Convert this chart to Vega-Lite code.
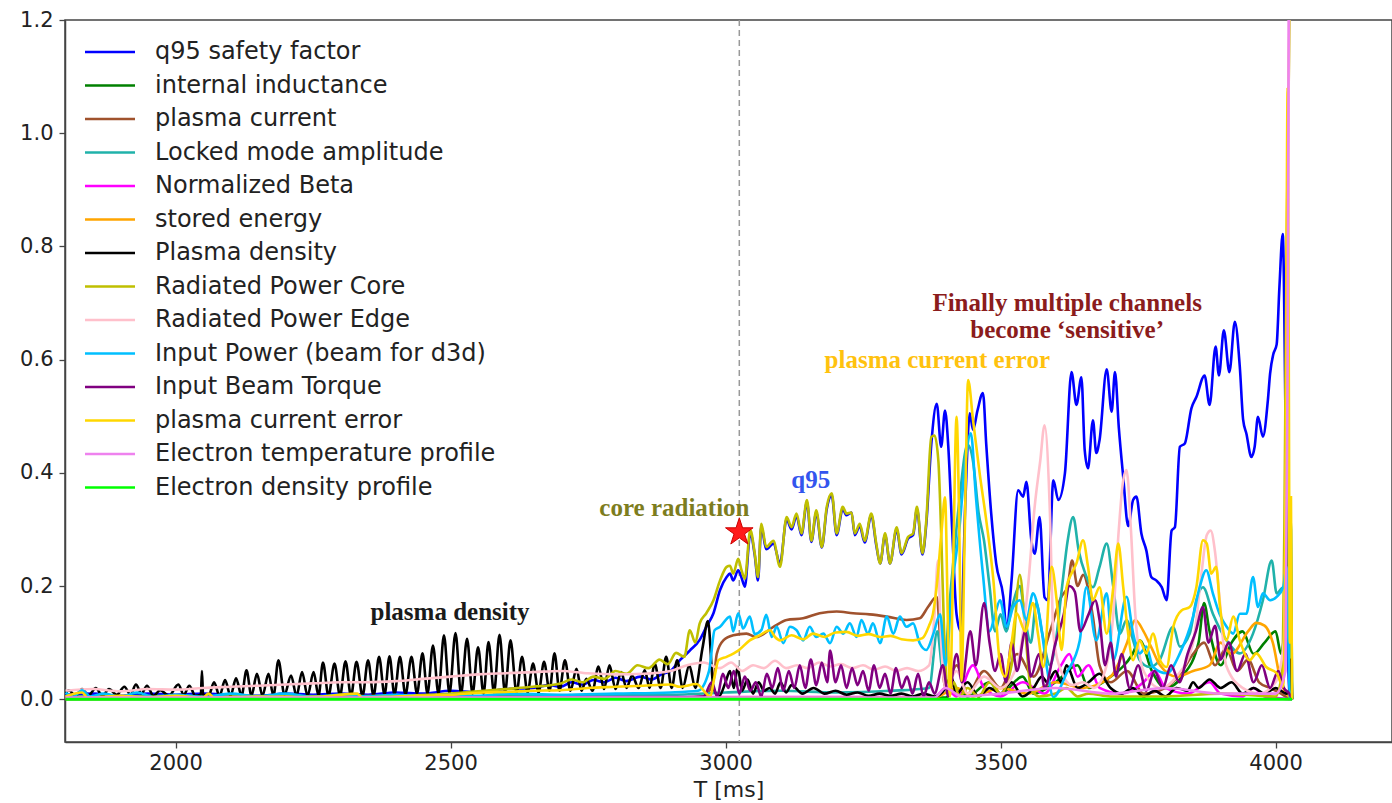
{
  "$schema": "https://vega.github.io/schema/vega-lite/v6.json",
  "width": 1327,
  "height": 722,
  "autosize": "none",
  "padding": {"left": 65, "top": 20, "right": 0, "bottom": 61},
  "background": "white",
  "config": {
    "view": {"stroke": "#444", "strokeWidth": 1.5},
    "axis": {"grid": false, "domainColor": "#444", "domainWidth": 1.5, "tickColor": "#444", "tickWidth": 1.3, "tickSize": 6, "labelFont": "DejaVu Sans", "labelFontSize": 21, "labelColor": "#222", "titleFont": "DejaVu Sans", "titleFontSize": 22, "titleFontWeight": "normal", "titleColor": "#222"}
  },
  "encoding": {
    "x": {"field": "t", "type": "quantitative", "scale": {"domain": [1799, 4211.7], "nice": false, "zero": false},
      "axis": {"title": "T [ms]", "orient": "bottom", "values": [2000, 2500, 3000, 3500, 4000], "format": "d", "labelPadding": 4, "titlePadding": 6}},
    "y": {"field": "v", "type": "quantitative", "scale": {"domain": [-0.0755, 1.2], "nice": false, "zero": false},
      "axis": {"title": null, "orient": "left", "values": [0, 0.2, 0.4, 0.6, 0.8, 1.0, 1.2], "format": ".1f", "labelPadding": 6}}
  },
  "layer": [
    {"mark": {"type": "rule", "color": "#999", "strokeDash": [6, 4], "strokeWidth": 1.5},
     "data": {"values": [{"t": 3025, "v": 1.2, "v2": -0.0755}]},
     "encoding": {"y2": {"field": "v2"}}},
    {"mark": {"type": "line", "strokeWidth": 2.6, "clip": true, "interpolate": "monotone"},
     "data": {"values": [
      {"t":1800,"v":0.008},{"t":1850,"v":0.01},{"t":1900,"v":0.006},{"t":1950,"v":0.01},{"t":2000,"v":0.008},{"t":2050,"v":0.01},{"t":2100,"v":0.008},{"t":2150,"v":0.006},{"t":2200,"v":0.01},{"t":2250,"v":0.008},{"t":2300,"v":0.01},{"t":2350,"v":0.008},{"t":2400,"v":0.012},{"t":2450,"v":0.01},{"t":2500,"v":0.015},{"t":2550,"v":0.012},{"t":2600,"v":0.018},{"t":2650,"v":0.02},{"t":2680,"v":0.025},{"t":2700,"v":0.022},{"t":2720,"v":0.03},{"t":2740,"v":0.026},{"t":2760,"v":0.034},{"t":2780,"v":0.03},{"t":2800,"v":0.038},{"t":2820,"v":0.032},{"t":2845,"v":0.04},{"t":2865,"v":0.035},{"t":2885,"v":0.045},{"t":2900,"v":0.05},{"t":2917,"v":0.069},{"t":2935,"v":0.086},{"t":2953,"v":0.105},{"t":2965,"v":0.128},{"t":2978,"v":0.152},{"t":2990,"v":0.193},{"t":3002,"v":0.216},{"t":3008,"v":0.222},{"t":3014,"v":0.21},{"t":3023,"v":0.228},{"t":3029,"v":0.215},{"t":3035,"v":0.199},{"t":3045,"v":0.293},{"t":3053,"v":0.255},{"t":3059,"v":0.21},{"t":3065,"v":0.305},{"t":3074,"v":0.265},{"t":3087,"v":0.275},{"t":3099,"v":0.24},{"t":3111,"v":0.318},{"t":3120,"v":0.3},{"t":3129,"v":0.324},{"t":3138,"v":0.29},{"t":3148,"v":0.348},{"t":3156,"v":0.278},{"t":3165,"v":0.33},{"t":3175,"v":0.268},{"t":3184,"v":0.336},{"t":3193,"v":0.36},{"t":3202,"v":0.29},{"t":3213,"v":0.336},{"t":3220,"v":0.325},{"t":3229,"v":0.33},{"t":3235,"v":0.29},{"t":3244,"v":0.306},{"t":3253,"v":0.277},{"t":3265,"v":0.325},{"t":3274,"v":0.272},{"t":3281,"v":0.24},{"t":3290,"v":0.29},{"t":3299,"v":0.24},{"t":3311,"v":0.3},{"t":3320,"v":0.256},{"t":3332,"v":0.284},{"t":3341,"v":0.29},{"t":3348,"v":0.336},{"t":3358,"v":0.256},{"t":3365,"v":0.31},{"t":3374,"v":0.45},{"t":3384,"v":0.522},{"t":3392,"v":0.446},{"t":3399,"v":0.51},{"t":3405,"v":0.446},{"t":3412,"v":0.3},{"t":3420,"v":0.15},{"t":3428,"v":0.12},{"t":3436,"v":0.35},{"t":3444,"v":0.505},{"t":3450,"v":0.476},{"t":3458,"v":0.51},{"t":3468,"v":0.541},{"t":3474,"v":0.45},{"t":3483,"v":0.328},{"t":3492,"v":0.24},{"t":3505,"v":0.181},{"t":3511,"v":0.122},{"t":3520,"v":0.21},{"t":3532,"v":0.369},{"t":3541,"v":0.358},{"t":3547,"v":0.384},{"t":3556,"v":0.281},{"t":3562,"v":0.257},{"t":3571,"v":0.322},{"t":3580,"v":0.18},{"t":3586,"v":0.175},{"t":3596,"v":0.387},{"t":3605,"v":0.352},{"t":3617,"v":0.399},{"t":3629,"v":0.578},{"t":3638,"v":0.52},{"t":3647,"v":0.569},{"t":3653,"v":0.44},{"t":3659,"v":0.408},{"t":3668,"v":0.493},{"t":3674,"v":0.435},{"t":3680,"v":0.458},{"t":3693,"v":0.583},{"t":3702,"v":0.508},{"t":3708,"v":0.578},{"t":3715,"v":0.48},{"t":3723,"v":0.393},{"t":3732,"v":0.306},{"t":3741,"v":0.352},{"t":3747,"v":0.358},{"t":3756,"v":0.293},{"t":3765,"v":0.263},{"t":3774,"v":0.216},{"t":3783,"v":0.21},{"t":3793,"v":0.198},{"t":3802,"v":0.175},{"t":3811,"v":0.298},{"t":3817,"v":0.304},{"t":3826,"v":0.446},{"t":3835,"v":0.452},{"t":3847,"v":0.514},{"t":3856,"v":0.534},{"t":3871,"v":0.572},{"t":3880,"v":0.52},{"t":3891,"v":0.623},{"t":3897,"v":0.572},{"t":3906,"v":0.652},{"t":3916,"v":0.578},{"t":3926,"v":0.667},{"t":3935,"v":0.587},{"t":3941,"v":0.494},{"t":3947,"v":0.469},{"t":3956,"v":0.428},{"t":3962,"v":0.446},{"t":3968,"v":0.499},{"t":3977,"v":0.464},{"t":3986,"v":0.528},{"t":3990,"v":0.575},{"t":3996,"v":0.61},{"t":4002,"v":0.627},{"t":4007,"v":0.728},{"t":4013,"v":0.822},{"t":4018,"v":0.5},{"t":4022,"v":0.1},{"t":4026,"v":0.0}
     ]},
     "encoding": {"color": {"datum": "q95 safety factor", "type": "nominal",
       "scale": {"domain": ["q95 safety factor", "internal inductance", "plasma current", "Locked mode amplitude", "Normalized Beta", "stored energy", "Plasma density", "Radiated Power Core", "Radiated Power Edge", "Input Power (beam for d3d)", "Input Beam Torque", "plasma current error", "Electron temperature profile", "Electron density profile"],
         "range": ["#0000ff", "#008000", "#a0522d", "#20b2aa", "#ff00ff", "#ffa500", "#000000", "#bfbf00", "#ffc0cb", "#00bfff", "#800080", "#ffd700", "#ee82ee", "#00ff00"]},
       "legend": {"orient": "none", "legendX": 31, "legendY": 18, "title": null, "symbolType": "M-2,0H2", "symbolSize": 625, "symbolStrokeWidth": 2.5, "labelFont": "DejaVu Sans", "labelFontSize": 24, "labelColor": "#222", "labelOffset": 31, "labelLimit": 600, "rowPadding": 7.5, "padding": 0}}}},
    {"mark": {"type": "line", "strokeWidth": 2.6, "clip": true, "interpolate": "monotone"},
     "data": {"values": [
      {"t":1800,"v":0.002},{"t":3400,"v":0.003},{"t":3420,"v":0.02},{"t":3440,"v":0.005},{"t":3480,"v":0.03},{"t":3500,"v":0.01},{"t":3540,"v":0.04},{"t":3560,"v":0.01},{"t":3600,"v":0.03},{"t":3640,"v":0.06},{"t":3660,"v":0.02},{"t":3700,"v":0.04},{"t":3740,"v":0.08},{"t":3753,"v":0.104},{"t":3775,"v":0.05},{"t":3800,"v":0.02},{"t":3830,"v":0.04},{"t":3860,"v":0.1},{"t":3870,"v":0.17},{"t":3880,"v":0.12},{"t":3900,"v":0.06},{"t":3920,"v":0.1},{"t":3940,"v":0.12},{"t":3960,"v":0.08},{"t":3980,"v":0.1},{"t":4000,"v":0.12},{"t":4010,"v":0.08},{"t":4020,"v":0.2},{"t":4024,"v":0.36},{"t":4028,"v":0.3},{"t":4030,"v":0.0}
     ]},
     "encoding": {"color": {"datum": "internal inductance", "type": "nominal"}}},
    {"mark": {"type": "line", "strokeWidth": 2.6, "clip": true, "interpolate": "monotone"},
     "data": {"values": [
      {"t":1800,"v":0.0},{"t":2900,"v":0.002},{"t":2960,"v":0.005},{"t":2978,"v":0.033},{"t":2984,"v":0.08},{"t":2996,"v":0.104},{"t":3014,"v":0.113},{"t":3038,"v":0.116},{"t":3056,"v":0.11},{"t":3087,"v":0.128},{"t":3111,"v":0.14},{"t":3141,"v":0.143},{"t":3171,"v":0.152},{"t":3202,"v":0.155},{"t":3232,"v":0.152},{"t":3262,"v":0.15},{"t":3293,"v":0.146},{"t":3329,"v":0.14},{"t":3353,"v":0.143},{"t":3368,"v":0.163},{"t":3384,"v":0.181},{"t":3392,"v":0.08},{"t":3400,"v":0.02},{"t":3420,"v":0.06},{"t":3440,"v":0.01},{"t":3470,"v":0.05},{"t":3500,"v":0.02},{"t":3530,"v":0.08},{"t":3560,"v":0.04},{"t":3590,"v":0.12},{"t":3610,"v":0.18},{"t":3622,"v":0.2},{"t":3630,"v":0.245},{"t":3640,"v":0.2},{"t":3650,"v":0.22},{"t":3668,"v":0.145},{"t":3680,"v":0.06},{"t":3700,"v":0.03},{"t":3730,"v":0.05},{"t":3760,"v":0.01},{"t":3800,"v":0.02},{"t":3830,"v":0.05},{"t":3850,"v":0.08},{"t":3870,"v":0.1},{"t":3890,"v":0.06},{"t":3910,"v":0.09},{"t":3930,"v":0.05},{"t":3950,"v":0.07},{"t":3970,"v":0.03},{"t":3990,"v":0.02},{"t":4010,"v":0.01},{"t":4025,"v":0.0}
     ]},
     "encoding": {"color": {"datum": "plasma current", "type": "nominal"}}},
    {"mark": {"type": "line", "strokeWidth": 2.6, "clip": true, "interpolate": "monotone"},
     "data": {"values": [
      {"t":1800,"v":0.005},{"t":2000,"v":0.006},{"t":2500,"v":0.005},{"t":2900,"v":0.008},{"t":3000,"v":0.012},{"t":3100,"v":0.015},{"t":3200,"v":0.012},{"t":3300,"v":0.015},{"t":3370,"v":0.02},{"t":3385,"v":0.12},{"t":3395,"v":0.05},{"t":3410,"v":0.2},{"t":3425,"v":0.35},{"t":3440,"v":0.45},{"t":3450,"v":0.42},{"t":3460,"v":0.33},{"t":3470,"v":0.28},{"t":3480,"v":0.2},{"t":3490,"v":0.12},{"t":3500,"v":0.15},{"t":3510,"v":0.12},{"t":3520,"v":0.16},{"t":3535,"v":0.2},{"t":3545,"v":0.14},{"t":3555,"v":0.1},{"t":3565,"v":0.17},{"t":3575,"v":0.12},{"t":3590,"v":0.06},{"t":3600,"v":0.1},{"t":3612,"v":0.2},{"t":3622,"v":0.28},{"t":3632,"v":0.322},{"t":3642,"v":0.263},{"t":3654,"v":0.222},{"t":3668,"v":0.198},{"t":3680,"v":0.234},{"t":3693,"v":0.275},{"t":3705,"v":0.198},{"t":3717,"v":0.116},{"t":3729,"v":0.14},{"t":3741,"v":0.104},{"t":3753,"v":0.069},{"t":3771,"v":0.057},{"t":3789,"v":0.069},{"t":3814,"v":0.128},{"t":3826,"v":0.093},{"t":3844,"v":0.116},{"t":3856,"v":0.175},{"t":3868,"v":0.198},{"t":3886,"v":0.151},{"t":3911,"v":0.104},{"t":3935,"v":0.081},{"t":3959,"v":0.116},{"t":3977,"v":0.175},{"t":3993,"v":0.245},{"t":4002,"v":0.187},{"t":4014,"v":0.198},{"t":4024,"v":0.116},{"t":4030,"v":0.0}
     ]},
     "encoding": {"color": {"datum": "Locked mode amplitude", "type": "nominal"}}},
    {"mark": {"type": "line", "strokeWidth": 2.6, "clip": true, "interpolate": "monotone"},
     "data": {"values": [
      {"t":1800,"v":0.003},{"t":3380,"v":0.004},{"t":3400,"v":0.02},{"t":3420,"v":0.005},{"t":3450,"v":0.06},{"t":3470,"v":0.02},{"t":3500,"v":0.005},{"t":3540,"v":0.03},{"t":3580,"v":0.01},{"t":3610,"v":0.06},{"t":3625,"v":0.08},{"t":3640,"v":0.04},{"t":3660,"v":0.06},{"t":3680,"v":0.02},{"t":3720,"v":0.01},{"t":3760,"v":0.03},{"t":3780,"v":0.05},{"t":3800,"v":0.02},{"t":3840,"v":0.01},{"t":3880,"v":0.03},{"t":3900,"v":0.01},{"t":3940,"v":0.005},{"t":3960,"v":0.02},{"t":3980,"v":0.005},{"t":4030,"v":0.0}
     ]},
     "encoding": {"color": {"datum": "Normalized Beta", "type": "nominal"}}},
    {"mark": {"type": "line", "strokeWidth": 2.6, "clip": true, "interpolate": "monotone"},
     "data": {"values": [
      {"t":1800,"v":0.002},{"t":3380,"v":0.003},{"t":3420,"v":0.02},{"t":3450,"v":0.005},{"t":3500,"v":0.02},{"t":3550,"v":0.01},{"t":3600,"v":0.03},{"t":3650,"v":0.02},{"t":3700,"v":0.04},{"t":3730,"v":0.1},{"t":3745,"v":0.14},{"t":3760,"v":0.12},{"t":3775,"v":0.09},{"t":3790,"v":0.06},{"t":3820,"v":0.04},{"t":3850,"v":0.05},{"t":3880,"v":0.06},{"t":3900,"v":0.1},{"t":3920,"v":0.08},{"t":3950,"v":0.12},{"t":3965,"v":0.135},{"t":3980,"v":0.13},{"t":3995,"v":0.1},{"t":4010,"v":0.03},{"t":4030,"v":0.0}
     ]},
     "encoding": {"color": {"datum": "stored energy", "type": "nominal"}}},
    {"mark": {"type": "line", "strokeWidth": 2.6, "clip": true, "interpolate": "monotone"},
     "data": {"values": [
      {"t":1800,"v":0.01},{"t":1806,"v":0.016},{"t":1818,"v":0.006},{"t":1830,"v":0.018},{"t":1842,"v":0.007},{"t":1855,"v":0.02},{"t":1867,"v":0.006},{"t":1879,"v":0.018},{"t":1893,"v":0.008},{"t":1907,"v":0.022},{"t":1918,"v":0.008},{"t":1928,"v":0.026},{"t":1938,"v":0.01},{"t":1948,"v":0.024},{"t":1960,"v":0.006},{"t":1972,"v":0.016},{"t":1988,"v":0.006},{"t":2005,"v":0.026},{"t":2015,"v":0.008},{"t":2025,"v":0.024},{"t":2036,"v":0.006},{"t":2046,"v":0.008},{"t":2048,"v":0.05},{"t":2050,"v":0.008},{"t":2060,"v":0.006},{"t":2070,"v":0.03},{"t":2080,"v":0.006},{"t":2090,"v":0.034},{"t":2100,"v":0.006},{"t":2110,"v":0.037},{"t":2120,"v":0.006},{"t":2129,"v":0.051},{"t":2138,"v":0.006},{"t":2148,"v":0.045},{"t":2158,"v":0.006},{"t":2169,"v":0.045},{"t":2178,"v":0.006},{"t":2187,"v":0.069},{"t":2198,"v":0.008},{"t":2210,"v":0.042},{"t":2220,"v":0.006},{"t":2230,"v":0.048},{"t":2240,"v":0.006},{"t":2251,"v":0.048},{"t":2260,"v":0.006},{"t":2268,"v":0.065},{"t":2278,"v":0.006},{"t":2289,"v":0.063},{"t":2299,"v":0.006},{"t":2309,"v":0.067},{"t":2319,"v":0.006},{"t":2329,"v":0.066},{"t":2340,"v":0.006},{"t":2350,"v":0.069},{"t":2360,"v":0.006},{"t":2370,"v":0.075},{"t":2380,"v":0.008},{"t":2389,"v":0.076},{"t":2398,"v":0.008},{"t":2408,"v":0.075},{"t":2418,"v":0.008},{"t":2429,"v":0.075},{"t":2439,"v":0.01},{"t":2449,"v":0.081},{"t":2458,"v":0.01},{"t":2468,"v":0.095},{"t":2478,"v":0.01},{"t":2488,"v":0.113},{"t":2498,"v":0.01},{"t":2509,"v":0.117},{"t":2519,"v":0.01},{"t":2530,"v":0.107},{"t":2540,"v":0.01},{"t":2550,"v":0.092},{"t":2560,"v":0.01},{"t":2569,"v":0.101},{"t":2579,"v":0.012},{"t":2589,"v":0.114},{"t":2599,"v":0.012},{"t":2609,"v":0.104},{"t":2620,"v":0.012},{"t":2630,"v":0.075},{"t":2640,"v":0.012},{"t":2650,"v":0.063},{"t":2660,"v":0.012},{"t":2670,"v":0.066},{"t":2680,"v":0.015},{"t":2689,"v":0.081},{"t":2698,"v":0.015},{"t":2708,"v":0.069},{"t":2718,"v":0.015},{"t":2729,"v":0.054},{"t":2738,"v":0.015},{"t":2747,"v":0.036},{"t":2758,"v":0.015},{"t":2769,"v":0.058},{"t":2779,"v":0.018},{"t":2789,"v":0.06},{"t":2800,"v":0.018},{"t":2810,"v":0.048},{"t":2820,"v":0.02},{"t":2830,"v":0.042},{"t":2842,"v":0.02},{"t":2853,"v":0.051},{"t":2862,"v":0.02},{"t":2871,"v":0.063},{"t":2882,"v":0.02},{"t":2892,"v":0.075},{"t":2902,"v":0.02},{"t":2912,"v":0.069},{"t":2922,"v":0.02},{"t":2934,"v":0.06},{"t":2945,"v":0.02},{"t":2958,"v":0.09},{"t":2968,"v":0.138},{"t":2978,"v":0.02},{"t":2988,"v":0.005},{"t":3000,"v":0.03},{"t":3008,"v":0.05},{"t":3015,"v":0.02},{"t":3022,"v":0.057},{"t":3030,"v":0.015},{"t":3040,"v":0.035},{"t":3050,"v":0.01},{"t":3060,"v":0.03},{"t":3070,"v":0.015},{"t":3080,"v":0.02},{"t":3090,"v":0.01},{"t":3100,"v":0.03},{"t":3110,"v":0.012},{"t":3120,"v":0.025},{"t":3140,"v":0.01},{"t":3160,"v":0.02},{"t":3180,"v":0.01},{"t":3200,"v":0.015},{"t":3220,"v":0.008},{"t":3240,"v":0.012},{"t":3260,"v":0.006},{"t":3280,"v":0.01},{"t":3300,"v":0.006},{"t":3320,"v":0.01},{"t":3340,"v":0.005},{"t":3360,"v":0.01},{"t":3380,"v":0.005},{"t":3400,"v":0.02},{"t":3410,"v":0.04},{"t":3420,"v":0.01},{"t":3440,"v":0.03},{"t":3460,"v":0.005},{"t":3480,"v":0.02},{"t":3500,"v":0.01},{"t":3520,"v":0.03},{"t":3540,"v":0.005},{"t":3560,"v":0.02},{"t":3575,"v":0.04},{"t":3585,"v":0.03},{"t":3600,"v":0.05},{"t":3610,"v":0.03},{"t":3620,"v":0.06},{"t":3640,"v":0.02},{"t":3660,"v":0.03},{"t":3680,"v":0.045},{"t":3700,"v":0.02},{"t":3720,"v":0.01},{"t":3740,"v":0.02},{"t":3760,"v":0.005},{"t":3780,"v":0.015},{"t":3800,"v":0.005},{"t":3820,"v":0.02},{"t":3840,"v":0.015},{"t":3850,"v":0.03},{"t":3860,"v":0.02},{"t":3880,"v":0.035},{"t":3900,"v":0.02},{"t":3920,"v":0.03},{"t":3940,"v":0.01},{"t":3960,"v":0.02},{"t":3980,"v":0.01},{"t":4000,"v":0.02},{"t":4020,"v":0.01},{"t":4026,"v":0.02},{"t":4028,"v":0.07},{"t":4030,"v":0.0}
     ]},
     "encoding": {"color": {"datum": "Plasma density", "type": "nominal"}}},
    {"mark": {"type": "line", "strokeWidth": 2.6, "clip": true, "interpolate": "monotone"},
     "data": {"values": [
      {"t":1800,"v":0.004},{"t":2000,"v":0.004},{"t":2200,"v":0.005},{"t":2400,"v":0.006},{"t":2500,"v":0.01},{"t":2550,"v":0.014},{"t":2600,"v":0.018},{"t":2650,"v":0.022},{"t":2700,"v":0.028},{"t":2720,"v":0.035},{"t":2740,"v":0.03},{"t":2760,"v":0.04},{"t":2780,"v":0.036},{"t":2800,"v":0.05},{"t":2820,"v":0.045},{"t":2840,"v":0.06},{"t":2860,"v":0.055},{"t":2880,"v":0.07},{"t":2895,"v":0.062},{"t":2910,"v":0.082},{"t":2925,"v":0.075},{"t":2935,"v":0.122},{"t":2945,"v":0.1},{"t":2953,"v":0.134},{"t":2965,"v":0.152},{"t":2978,"v":0.175},{"t":2990,"v":0.21},{"t":3002,"v":0.234},{"t":3008,"v":0.236},{"t":3014,"v":0.222},{"t":3023,"v":0.248},{"t":3029,"v":0.228},{"t":3035,"v":0.213},{"t":3045,"v":0.299},{"t":3053,"v":0.258},{"t":3059,"v":0.216},{"t":3065,"v":0.31},{"t":3074,"v":0.269},{"t":3087,"v":0.28},{"t":3099,"v":0.234},{"t":3111,"v":0.322},{"t":3120,"v":0.304},{"t":3129,"v":0.328},{"t":3138,"v":0.293},{"t":3148,"v":0.352},{"t":3156,"v":0.28},{"t":3165,"v":0.334},{"t":3175,"v":0.269},{"t":3184,"v":0.34},{"t":3193,"v":0.364},{"t":3202,"v":0.293},{"t":3213,"v":0.34},{"t":3220,"v":0.328},{"t":3229,"v":0.33},{"t":3235,"v":0.293},{"t":3244,"v":0.31},{"t":3253,"v":0.28},{"t":3265,"v":0.328},{"t":3274,"v":0.275},{"t":3281,"v":0.24},{"t":3290,"v":0.293},{"t":3299,"v":0.24},{"t":3311,"v":0.304},{"t":3320,"v":0.258},{"t":3332,"v":0.287},{"t":3341,"v":0.293},{"t":3348,"v":0.34},{"t":3358,"v":0.258},{"t":3365,"v":0.316},{"t":3374,"v":0.463},{"t":3380,"v":0.466},{"t":3387,"v":0.42},{"t":3392,"v":0.293},{"t":3398,"v":0.1},{"t":3405,"v":0.01},{"t":3415,"v":0.03},{"t":3425,"v":0.005},{"t":3440,"v":0.02},{"t":3460,"v":0.005},{"t":3480,"v":0.03},{"t":3500,"v":0.01},{"t":3520,"v":0.06},{"t":3535,"v":0.22},{"t":3545,"v":0.12},{"t":3555,"v":0.02},{"t":3570,"v":0.005},{"t":3600,"v":0.01},{"t":3620,"v":0.02},{"t":3640,"v":0.005},{"t":3660,"v":0.01},{"t":3700,"v":0.005},{"t":3800,"v":0.005},{"t":3900,"v":0.01},{"t":4000,"v":0.005},{"t":4012,"v":0.05},{"t":4016,"v":0.3},{"t":4020,"v":0.8},{"t":4026,"v":1.25}
     ]},
     "encoding": {"color": {"datum": "Radiated Power Core", "type": "nominal"}}},
    {"mark": {"type": "line", "strokeWidth": 2.6, "clip": true, "interpolate": "monotone"},
     "data": {"values": [
      {"t":1800,"v":0.015},{"t":1850,"v":0.018},{"t":1900,"v":0.014},{"t":1950,"v":0.018},{"t":2000,"v":0.017},{"t":2050,"v":0.02},{"t":2100,"v":0.022},{"t":2150,"v":0.024},{"t":2200,"v":0.026},{"t":2250,"v":0.028},{"t":2300,"v":0.03},{"t":2350,"v":0.03},{"t":2400,"v":0.032},{"t":2450,"v":0.036},{"t":2500,"v":0.04},{"t":2550,"v":0.044},{"t":2600,"v":0.046},{"t":2650,"v":0.048},{"t":2700,"v":0.05},{"t":2750,"v":0.046},{"t":2800,"v":0.044},{"t":2850,"v":0.045},{"t":2900,"v":0.05},{"t":2930,"v":0.06},{"t":2960,"v":0.065},{"t":2990,"v":0.055},{"t":3010,"v":0.065},{"t":3030,"v":0.05},{"t":3050,"v":0.06},{"t":3070,"v":0.055},{"t":3090,"v":0.068},{"t":3110,"v":0.055},{"t":3130,"v":0.06},{"t":3150,"v":0.055},{"t":3170,"v":0.065},{"t":3190,"v":0.058},{"t":3210,"v":0.062},{"t":3230,"v":0.055},{"t":3250,"v":0.06},{"t":3270,"v":0.052},{"t":3290,"v":0.058},{"t":3310,"v":0.05},{"t":3330,"v":0.055},{"t":3350,"v":0.05},{"t":3370,"v":0.06},{"t":3380,"v":0.15},{"t":3386,"v":0.245},{"t":3392,"v":0.1},{"t":3400,"v":0.02},{"t":3420,"v":0.05},{"t":3440,"v":0.01},{"t":3470,"v":0.04},{"t":3500,"v":0.02},{"t":3530,"v":0.06},{"t":3550,"v":0.2},{"t":3562,"v":0.34},{"t":3572,"v":0.42},{"t":3580,"v":0.484},{"t":3590,"v":0.322},{"t":3596,"v":0.116},{"t":3610,"v":0.05},{"t":3630,"v":0.025},{"t":3650,"v":0.03},{"t":3670,"v":0.02},{"t":3690,"v":0.05},{"t":3705,"v":0.15},{"t":3715,"v":0.3},{"t":3722,"v":0.38},{"t":3729,"v":0.405},{"t":3737,"v":0.3},{"t":3745,"v":0.15},{"t":3760,"v":0.05},{"t":3790,"v":0.02},{"t":3820,"v":0.04},{"t":3850,"v":0.1},{"t":3865,"v":0.22},{"t":3875,"v":0.29},{"t":3882,"v":0.298},{"t":3890,"v":0.26},{"t":3898,"v":0.18},{"t":3910,"v":0.06},{"t":3940,"v":0.02},{"t":3970,"v":0.01},{"t":4000,"v":0.03},{"t":4015,"v":0.1},{"t":4020,"v":0.5},{"t":4025,"v":1.25}
     ]},
     "encoding": {"color": {"datum": "Radiated Power Edge", "type": "nominal"}}},
    {"mark": {"type": "line", "strokeWidth": 2.6, "clip": true, "interpolate": "monotone"},
     "data": {"values": [
      {"t":1800,"v":0.012},{"t":1815,"v":0.005},{"t":1830,"v":0.016},{"t":1845,"v":0.005},{"t":1870,"v":0.01},{"t":1900,"v":0.004},{"t":1930,"v":0.012},{"t":1960,"v":0.004},{"t":2000,"v":0.008},{"t":2050,"v":0.004},{"t":2100,"v":0.01},{"t":2150,"v":0.005},{"t":2200,"v":0.01},{"t":2250,"v":0.004},{"t":2300,"v":0.008},{"t":2350,"v":0.005},{"t":2400,"v":0.008},{"t":2450,"v":0.005},{"t":2500,"v":0.008},{"t":2550,"v":0.006},{"t":2600,"v":0.01},{"t":2700,"v":0.008},{"t":2800,"v":0.01},{"t":2900,"v":0.012},{"t":2950,"v":0.015},{"t":2970,"v":0.05},{"t":2980,"v":0.122},{"t":2990,"v":0.128},{"t":3008,"v":0.146},{"t":3014,"v":0.12},{"t":3023,"v":0.152},{"t":3032,"v":0.125},{"t":3044,"v":0.146},{"t":3053,"v":0.115},{"t":3065,"v":0.122},{"t":3074,"v":0.149},{"t":3084,"v":0.11},{"t":3093,"v":0.128},{"t":3105,"v":0.099},{"t":3117,"v":0.128},{"t":3129,"v":0.122},{"t":3141,"v":0.104},{"t":3153,"v":0.128},{"t":3165,"v":0.11},{"t":3178,"v":0.116},{"t":3190,"v":0.099},{"t":3202,"v":0.128},{"t":3214,"v":0.116},{"t":3226,"v":0.134},{"t":3238,"v":0.11},{"t":3247,"v":0.14},{"t":3259,"v":0.116},{"t":3268,"v":0.134},{"t":3281,"v":0.099},{"t":3293,"v":0.146},{"t":3305,"v":0.116},{"t":3317,"v":0.146},{"t":3329,"v":0.128},{"t":3341,"v":0.134},{"t":3353,"v":0.099},{"t":3365,"v":0.087},{"t":3378,"v":0.116},{"t":3390,"v":0.15},{"t":3400,"v":0.06},{"t":3412,"v":0.2},{"t":3425,"v":0.3},{"t":3436,"v":0.42},{"t":3446,"v":0.47},{"t":3455,"v":0.36},{"t":3468,"v":0.22},{"t":3480,"v":0.12},{"t":3490,"v":0.15},{"t":3499,"v":0.175},{"t":3511,"v":0.128},{"t":3523,"v":0.163},{"t":3535,"v":0.175},{"t":3547,"v":0.14},{"t":3559,"v":0.187},{"t":3571,"v":0.146},{"t":3584,"v":0.057},{"t":3596,"v":0.004},{"t":3620,"v":0.046},{"t":3644,"v":0.104},{"t":3656,"v":0.198},{"t":3674,"v":0.104},{"t":3693,"v":0.187},{"t":3705,"v":0.069},{"t":3729,"v":0.181},{"t":3741,"v":0.116},{"t":3753,"v":0.081},{"t":3765,"v":0.093},{"t":3777,"v":0.057},{"t":3802,"v":0.046},{"t":3826,"v":0.081},{"t":3850,"v":0.146},{"t":3862,"v":0.198},{"t":3874,"v":0.228},{"t":3886,"v":0.187},{"t":3898,"v":0.151},{"t":3911,"v":0.128},{"t":3923,"v":0.116},{"t":3935,"v":0.151},{"t":3947,"v":0.151},{"t":3959,"v":0.216},{"t":3968,"v":0.163},{"t":3977,"v":0.187},{"t":3990,"v":0.175},{"t":4002,"v":0.181},{"t":4014,"v":0.198},{"t":4020,"v":0.234},{"t":4026,"v":0.004},{"t":4030,"v":0.0}
     ]},
     "encoding": {"color": {"datum": "Input Power (beam for d3d)", "type": "nominal"}}},
    {"mark": {"type": "line", "strokeWidth": 2.6, "clip": true, "interpolate": "monotone"},
     "data": {"values": [
      {"t":1800,"v":0.002},{"t":2900,"v":0.003},{"t":2960,"v":0.005},{"t":2975,"v":0.03},{"t":2985,"v":0.005},{"t":2995,"v":0.045},{"t":3005,"v":0.02},{"t":3015,"v":0.05},{"t":3025,"v":0.01},{"t":3035,"v":0.04},{"t":3045,"v":0.015},{"t":3055,"v":0.03},{"t":3065,"v":0.005},{"t":3075,"v":0.045},{"t":3085,"v":0.02},{"t":3095,"v":0.055},{"t":3105,"v":0.015},{"t":3115,"v":0.05},{"t":3125,"v":0.02},{"t":3135,"v":0.06},{"t":3145,"v":0.02},{"t":3155,"v":0.07},{"t":3165,"v":0.025},{"t":3175,"v":0.065},{"t":3185,"v":0.03},{"t":3190,"v":0.086},{"t":3200,"v":0.03},{"t":3210,"v":0.06},{"t":3220,"v":0.02},{"t":3230,"v":0.055},{"t":3240,"v":0.025},{"t":3250,"v":0.05},{"t":3260,"v":0.015},{"t":3270,"v":0.06},{"t":3280,"v":0.02},{"t":3290,"v":0.045},{"t":3300,"v":0.01},{"t":3310,"v":0.055},{"t":3320,"v":0.02},{"t":3330,"v":0.04},{"t":3340,"v":0.01},{"t":3350,"v":0.045},{"t":3360,"v":0.005},{"t":3370,"v":0.03},{"t":3380,"v":0.01},{"t":3395,"v":0.06},{"t":3405,"v":0.005},{"t":3420,"v":0.08},{"t":3430,"v":0.03},{"t":3445,"v":0.12},{"t":3455,"v":0.06},{"t":3470,"v":0.17},{"t":3480,"v":0.1},{"t":3490,"v":0.05},{"t":3500,"v":0.08},{"t":3510,"v":0.03},{"t":3520,"v":0.1},{"t":3530,"v":0.05},{"t":3545,"v":0.12},{"t":3555,"v":0.04},{"t":3570,"v":0.08},{"t":3580,"v":0.02},{"t":3600,"v":0.1},{"t":3615,"v":0.15},{"t":3625,"v":0.2},{"t":3635,"v":0.19},{"t":3645,"v":0.12},{"t":3660,"v":0.15},{"t":3672,"v":0.175},{"t":3680,"v":0.14},{"t":3690,"v":0.06},{"t":3700,"v":0.1},{"t":3710,"v":0.04},{"t":3720,"v":0.08},{"t":3735,"v":0.02},{"t":3750,"v":0.06},{"t":3765,"v":0.015},{"t":3780,"v":0.05},{"t":3795,"v":0.02},{"t":3810,"v":0.06},{"t":3825,"v":0.03},{"t":3840,"v":0.08},{"t":3855,"v":0.12},{"t":3868,"v":0.163},{"t":3878,"v":0.1},{"t":3890,"v":0.13},{"t":3900,"v":0.07},{"t":3915,"v":0.1},{"t":3930,"v":0.05},{"t":3945,"v":0.08},{"t":3960,"v":0.03},{"t":3975,"v":0.06},{"t":3990,"v":0.02},{"t":4005,"v":0.05},{"t":4015,"v":0.02},{"t":4025,"v":0.01},{"t":4030,"v":0.0}
     ]},
     "encoding": {"color": {"datum": "Input Beam Torque", "type": "nominal"}}},
    {"mark": {"type": "line", "strokeWidth": 2.6, "clip": true, "interpolate": "monotone"},
     "data": {"values": [
      {"t":1800,"v":0.005},{"t":1830,"v":0.012},{"t":1840,"v":0.003},{"t":1900,"v":0.006},{"t":1950,"v":0.004},{"t":2000,"v":0.006},{"t":2050,"v":0.003},{"t":2060,"v":0.01},{"t":2070,"v":0.003},{"t":2150,"v":0.005},{"t":2250,"v":0.004},{"t":2330,"v":0.01},{"t":2340,"v":0.003},{"t":2400,"v":0.005},{"t":2500,"v":0.008},{"t":2560,"v":0.012},{"t":2600,"v":0.013},{"t":2650,"v":0.015},{"t":2700,"v":0.016},{"t":2750,"v":0.02},{"t":2800,"v":0.022},{"t":2850,"v":0.024},{"t":2900,"v":0.026},{"t":2917,"v":0.022},{"t":2947,"v":0.027},{"t":2965,"v":0.01},{"t":2972,"v":0.004},{"t":2980,"v":0.04},{"t":2987,"v":0.069},{"t":3002,"v":0.075},{"t":3023,"v":0.086},{"t":3044,"v":0.104},{"t":3062,"v":0.113},{"t":3081,"v":0.122},{"t":3090,"v":0.11},{"t":3099,"v":0.104},{"t":3120,"v":0.113},{"t":3141,"v":0.106},{"t":3159,"v":0.116},{"t":3180,"v":0.11},{"t":3200,"v":0.118},{"t":3220,"v":0.119},{"t":3240,"v":0.112},{"t":3260,"v":0.115},{"t":3281,"v":0.11},{"t":3300,"v":0.112},{"t":3320,"v":0.106},{"t":3341,"v":0.104},{"t":3358,"v":0.108},{"t":3370,"v":0.13},{"t":3377,"v":0.15},{"t":3385,"v":0.21},{"t":3393,"v":0.3},{"t":3399,"v":0.357},{"t":3405,"v":0.1},{"t":3408,"v":0.005},{"t":3414,"v":0.25},{"t":3420,"v":0.499},{"t":3425,"v":0.3},{"t":3429,"v":0.033},{"t":3435,"v":0.3},{"t":3441,"v":0.564},{"t":3450,"v":0.493},{"t":3462,"v":0.399},{"t":3474,"v":0.316},{"t":3487,"v":0.21},{"t":3499,"v":0.063},{"t":3508,"v":0.04},{"t":3520,"v":0.1},{"t":3529,"v":0.152},{"t":3545,"v":0.12},{"t":3559,"v":0.17},{"t":3568,"v":0.116},{"t":3578,"v":0.057},{"t":3593,"v":0.234},{"t":3602,"v":0.175},{"t":3611,"v":0.087},{"t":3620,"v":0.198},{"t":3629,"v":0.222},{"t":3638,"v":0.24},{"t":3650,"v":0.281},{"t":3659,"v":0.234},{"t":3668,"v":0.175},{"t":3680,"v":0.198},{"t":3693,"v":0.116},{"t":3705,"v":0.198},{"t":3714,"v":0.275},{"t":3723,"v":0.198},{"t":3732,"v":0.116},{"t":3741,"v":0.069},{"t":3753,"v":0.104},{"t":3765,"v":0.081},{"t":3777,"v":0.116},{"t":3790,"v":0.069},{"t":3802,"v":0.057},{"t":3814,"v":0.128},{"t":3829,"v":0.157},{"t":3844,"v":0.163},{"t":3856,"v":0.198},{"t":3868,"v":0.281},{"t":3875,"v":0.275},{"t":3883,"v":0.222},{"t":3892,"v":0.234},{"t":3899,"v":0.163},{"t":3911,"v":0.104},{"t":3923,"v":0.146},{"t":3935,"v":0.104},{"t":3953,"v":0.069},{"t":3965,"v":0.081},{"t":3983,"v":0.057},{"t":4002,"v":0.046},{"t":4014,"v":0.022},{"t":4018,"v":0.3},{"t":4022,"v":1.08},{"t":4024,"v":0.6},{"t":4026,"v":0.1},{"t":4028,"v":0.357},{"t":4030,"v":0.0}
     ]},
     "encoding": {"color": {"datum": "plasma current error", "type": "nominal"}}},
    {"mark": {"type": "line", "strokeWidth": 2.6, "clip": true, "interpolate": "monotone"},
     "data": {"values": [
      {"t":1800,"v":0.003},{"t":3380,"v":0.003},{"t":3400,"v":0.02},{"t":3430,"v":0.005},{"t":3500,"v":0.01},{"t":3600,"v":0.02},{"t":3700,"v":0.01},{"t":3800,"v":0.02},{"t":3900,"v":0.01},{"t":4000,"v":0.01},{"t":4018,"v":0.05},{"t":4022,"v":0.6},{"t":4024,"v":1.25}
     ]},
     "encoding": {"color": {"datum": "Electron temperature profile", "type": "nominal"}}},
    {"mark": {"type": "line", "strokeWidth": 3, "clip": true},
     "data": {"values": [{"t":1800,"v":0.0},{"t":4030,"v":0.0}]},
     "encoding": {"color": {"datum": "Electron density profile", "type": "nominal"}}},
    {"mark": {"type": "point", "shape": "M0,-1L0.2245,-0.309L0.951,-0.309L0.363,0.118L0.588,0.809L0,0.382L-0.588,0.809L-0.363,0.118L-0.951,-0.309L-0.2245,-0.309Z", "filled": true, "color": "#ff1a1a", "stroke": "#cc0000", "strokeWidth": 1, "size": 840, "opacity": 1},
     "data": {"values": [{"t": 3025, "v": 0.295}]}},
    {"mark": {"type": "text", "font": "Liberation Serif", "fontWeight": "bold", "fontSize": 25, "color": "#1a1a1a", "align": "center", "baseline": "middle"},
     "data": {"values": [{"t": 2499, "v": 0.154, "label": "plasma density"}]},
     "encoding": {"text": {"field": "label", "type": "nominal"}}},
    {"mark": {"type": "text", "font": "Liberation Serif", "fontWeight": "bold", "fontSize": 25, "color": "#7d7d1e", "align": "center", "baseline": "middle"},
     "data": {"values": [{"t": 2907, "v": 0.338, "label": "core radiation"}]},
     "encoding": {"text": {"field": "label", "type": "nominal"}}},
    {"mark": {"type": "text", "font": "Liberation Serif", "fontWeight": "bold", "fontSize": 25, "color": "#3355ee", "align": "center", "baseline": "middle"},
     "data": {"values": [{"t": 3155, "v": 0.387, "label": "q95"}]},
     "encoding": {"text": {"field": "label", "type": "nominal"}}},
    {"mark": {"type": "text", "font": "Liberation Serif", "fontWeight": "bold", "fontSize": 25, "color": "#ffc20e", "align": "center", "baseline": "middle"},
     "data": {"values": [{"t": 3385, "v": 0.599, "label": "plasma current error"}]},
     "encoding": {"text": {"field": "label", "type": "nominal"}}},
    {"mark": {"type": "text", "font": "Liberation Serif", "fontWeight": "bold", "fontSize": 25, "color": "#8b1c1c", "align": "center", "baseline": "middle"},
     "data": {"values": [{"t": 3621, "v": 0.700, "label": "Finally multiple channels"}, {"t": 3621, "v": 0.653, "label": "become ‘sensitive’"}]},
     "encoding": {"text": {"field": "label", "type": "nominal"}}}
  ]
}
